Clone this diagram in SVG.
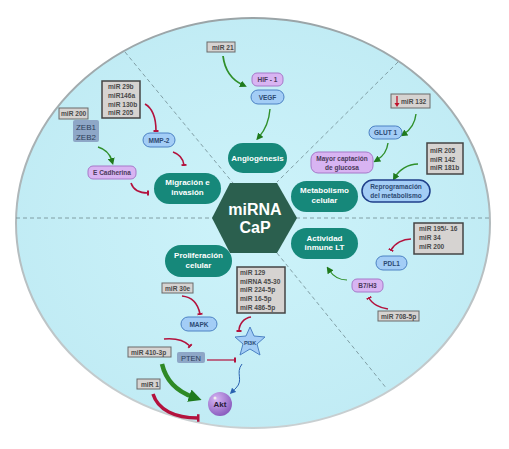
<svg xmlns="http://www.w3.org/2000/svg" width="509" height="449" viewBox="0 0 509 449">
<style>
text{font-family:"Liberation Sans",Arial,sans-serif;font-weight:bold}
.teal{fill:#16887a}
.tl{fill:#fff;font-size:8px;text-anchor:middle}
.gbox{fill:#d6d3d1;stroke:#6a6a6a;stroke-width:1}
.gbox2{fill:#d6d3d1;stroke:#444;stroke-width:1.5}
.gt{fill:#4a4a4a;font-size:6.6px}
.lav{fill:#d8b4f2;stroke:#a679c9;stroke-width:1}
.blu{fill:#a3cdf6;stroke:#4c82c4;stroke-width:1}
.st{font-size:6.5px;text-anchor:middle}
.lt{fill:#4a3a5a}
.bt{fill:#2c4a72}
.dash{stroke:#6f8a90;stroke-width:0.8;stroke-dasharray:4 3;fill:none}
.g{fill:none;stroke:#2f8f2a;stroke-width:1.8;marker-end:url(#ag)}
.r{fill:none;stroke:#b3123d;stroke-width:1.6;marker-end:url(#tr)}
</style>
<defs>
<radialGradient id="bg" cx="50%" cy="50%" r="55%">
<stop offset="0" stop-color="#cdf3fa"/>
<stop offset="1" stop-color="#c0ebf4"/>
</radialGradient>
<linearGradient id="rim" x1="0" y1="0" x2="0" y2="1">
<stop offset="0" stop-color="#9aa4a7"/>
<stop offset="1" stop-color="#c9d0d2"/>
</linearGradient>
<radialGradient id="akt" cx="35%" cy="30%" r="70%">
<stop offset="0" stop-color="#d6b5f3"/>
<stop offset="1" stop-color="#8c5fc0"/>
</radialGradient>
<marker id="ag" viewBox="0 0 10 10" refX="4" refY="5" markerUnits="userSpaceOnUse" markerWidth="7" markerHeight="7" orient="auto">
<path d="M0,0 L10,5 L0,10 z" fill="#1f7a1c"/>
</marker>
<marker id="agb" viewBox="0 0 10 10" refX="3" refY="5" markerUnits="userSpaceOnUse" markerWidth="13" markerHeight="13" orient="auto">
<path d="M0,0 L10,5 L0,10 z" fill="#1f7a1c"/>
</marker>
<marker id="tr" viewBox="0 0 4 10" refX="2" refY="5" markerUnits="userSpaceOnUse" markerWidth="2" markerHeight="7" orient="auto">
<rect x="0" y="0" width="4" height="10" fill="#b3123d"/>
</marker>
<marker id="trb" viewBox="0 0 4 10" refX="2" refY="5" markerUnits="userSpaceOnUse" markerWidth="3" markerHeight="14" orient="auto">
<rect x="0" y="0" width="4" height="10" fill="#b3123d"/>
</marker>
<marker id="ab" viewBox="0 0 10 10" refX="5" refY="5" markerUnits="userSpaceOnUse" markerWidth="6" markerHeight="6" orient="auto">
<path d="M0,0 L10,5 L0,10 z" fill="#2a62b0"/>
</marker>
</defs>

<g id="background">
<ellipse cx="253" cy="223" rx="237" ry="205" fill="url(#bg)" stroke="url(#rim)" stroke-width="2"/>
<line class="dash" x1="16" y1="218" x2="490" y2="218"/>
<line class="dash" x1="125" y1="52" x2="233" y2="183"/>
<line class="dash" x1="398" y1="62" x2="277" y2="182"/>
<line class="dash" x1="277" y1="253" x2="387" y2="389"/>
</g>

<g id="connectors">
<path class="g" d="M223,56 C225,72 232,80 243,85"/>
<path class="g" style="stroke-width:1.4" d="M270,109 C269,122 265,130 259,137"/>
<path class="r" d="M145,104 C152,108 156,118 156,131"/>
<path class="r" d="M173,152 C179,154 183,158 184,165"/>
<path class="g" style="stroke-width:1.4" d="M98,147 C105,149 110,154 112,161"/>
<path class="r" d="M131,183 C133,189 139,193 148,193"/>
<path class="g" style="stroke-width:1.4" d="M416,114 C415,123 410,130 404,134"/>
<path class="g" style="stroke-width:1.4" d="M388,143 C387,151 382,157 377,160"/>
<path class="g" style="stroke-width:1.4" d="M418,164 C408,164 399,170 395,177"/>
<path class="r" d="M411,239 C403,239 395,243 391,250"/>
<path class="g" style="stroke-width:1.2" d="M347,280 C340,280 333,276 329,270"/>
<path class="r" d="M388,309 C380,308 372,304 369,298"/>
<path class="r" d="M182,296 C192,297 198,304 200,314"/>
<path class="r" d="M251,317 C244,318 239,324 239,331"/>
<path class="r" d="M164,339 C175,338 184,340 190,346"/>
<path class="r" style="stroke-width:1.2" d="M207,360 L235,360"/>
<path fill="none" stroke="#2a62b0" stroke-width="1" marker-end="url(#ab)" d="M242,364 C235,373 244,380 236,388 C234,390 233,391 232,392"/>
<path fill="none" stroke="#2e8a26" stroke-width="4.5" marker-end="url(#agb)" d="M162,364 C166,381 176,391 193,397"/>
<path fill="none" stroke="#b3123d" stroke-width="3.5" marker-end="url(#trb)" d="M153,394 C158,410 175,418 198,418"/>
</g>

<g id="center">
<polygon points="212,218 230,183 277,183 297,218 277,253 230,253" fill="#2b5f4e"/>
<text x="255" y="215" fill="#fff" font-size="16" text-anchor="middle">miRNA</text>
<text x="255" y="233" fill="#fff" font-size="16" text-anchor="middle">CaP</text>
</g>

<g id="angiogenesis">
<rect class="teal" x="228" y="143" width="59" height="30" rx="15"/>
<text class="tl" x="257.5" y="161">Angiogénesis</text>
</g>
<g id="migracion">
<rect class="teal" x="154" y="173" width="67" height="31" rx="15.5"/>
<text class="tl" x="187.5" y="185">Migración e</text>
<text class="tl" x="187.5" y="195">invasión</text>
</g>
<g id="metabolismo">
<rect class="teal" x="291" y="181" width="67" height="31" rx="15.5"/>
<text class="tl" x="324.5" y="193">Metabolismo</text>
<text class="tl" x="324.5" y="203">celular</text>
</g>
<g id="actividad">
<rect class="teal" x="291" y="228" width="67" height="31" rx="15.5"/>
<text class="tl" x="324.5" y="241">Actividad</text>
<text class="tl" x="324.5" y="250">inmune LT</text>
</g>
<g id="proliferacion">
<rect class="teal" x="165" y="245" width="67" height="32" rx="16"/>
<text class="tl" x="198.5" y="258">Proliferación</text>
<text class="tl" x="198.5" y="268">celular</text>
</g>

<g id="mir21"><rect class="gbox" x="207" y="42" width="28" height="10"/><text class="gt" x="212" y="49.5">miR 21</text></g>
<g id="hif1"><rect class="lav" x="252" y="73" width="31" height="13" rx="5"/><text class="st lt" x="267.5" y="81.5">HIF - 1</text></g>
<g id="vegf"><rect class="blu" x="251" y="90" width="33" height="14" rx="7"/><text class="st bt" x="267.5" y="99.5">VEGF</text></g>

<g id="mir29b"><rect class="gbox2" x="102" y="81" width="38" height="37"/>
<text class="gt" x="108" y="89">miR 29b</text><text class="gt" x="108" y="98">miR146a</text><text class="gt" x="108" y="106.5">miR 130b</text><text class="gt" x="108" y="115">miR 205</text></g>
<g id="mir200a"><rect class="gbox" x="59" y="108" width="29" height="11"/><text class="gt" x="61" y="116">miR 200</text></g>
<g id="zeb"><rect x="73" y="120" width="26" height="22" rx="2" fill="#8ea7c7"/>
<text x="86" y="130" font-size="8" fill="#2c3e5a" text-anchor="middle" style="font-weight:normal">ZEB1</text>
<text x="86" y="139.5" font-size="8" fill="#2c3e5a" text-anchor="middle" style="font-weight:normal">ZEB2</text></g>
<g id="mmp2"><rect class="blu" x="143" y="133" width="32" height="14" rx="7"/><text class="st bt" x="159" y="142.5">MMP-2</text></g>
<g id="ecadherina"><rect class="lav" x="88" y="166" width="48" height="13" rx="5"/><text class="st lt" x="112" y="175">E Cadherina</text></g>

<g id="mir132"><rect class="gbox" x="391" y="94" width="39" height="14"/>
<path d="M397,96 L397,104" stroke="#c0102a" stroke-width="1.3"/><path d="M394.5,103 L397,107 L399.5,103 z" fill="#c0102a"/>
<text class="gt" x="401" y="103.5">miR 132</text></g>
<g id="glut1"><rect class="blu" x="369" y="126" width="33" height="13" rx="6.5"/><text class="st bt" x="385.5" y="135">GLUT 1</text></g>
<g id="mayor"><rect class="lav" x="311" y="152" width="62" height="21" rx="7"/>
<text class="st lt" x="342" y="160.5">Mayor captación</text><text class="st lt" x="342" y="169.5">de glucosa</text></g>
<g id="mir205"><rect class="gbox2" x="427" y="143" width="36" height="31"/>
<text class="gt" x="430" y="153">miR 205</text><text class="gt" x="430" y="161.5">miR 142</text><text class="gt" x="430" y="170">miR 181b</text></g>
<g id="reprog"><rect x="362" y="180" width="68" height="22" rx="11" fill="#a3cdf6" stroke="#1f3f8a" stroke-width="1.5"/>
<text class="st bt" x="396" y="189">Reprogramación</text><text class="st bt" x="396" y="198">del metabolismo</text></g>

<g id="mir195"><rect class="gbox2" x="414" y="223" width="49" height="31"/>
<text class="gt" x="419" y="231">miR 195/- 16</text><text class="gt" x="419" y="240">miR 34</text><text class="gt" x="419" y="249">miR 200</text></g>
<g id="pdl1"><rect class="blu" x="376" y="256" width="31" height="14" rx="7"/><text class="st bt" x="391.5" y="265.5">PDL1</text></g>
<g id="b7h3"><rect class="lav" x="352" y="279" width="31" height="13" rx="5"/><text class="st lt" x="367.5" y="288">B7/H3</text></g>
<g id="mir708"><rect class="gbox" x="378" y="311" width="41" height="10"/><text class="gt" x="381" y="318.5">miR 708-5p</text></g>

<g id="mir129"><rect class="gbox2" x="237" y="267" width="48" height="46"/>
<text class="gt" x="240" y="275">miR 129</text><text class="gt" x="240" y="284">miRNA 45-30</text><text class="gt" x="240" y="292">miR 224-5p</text><text class="gt" x="240" y="301">miR 16-5p</text><text class="gt" x="240" y="309.5">miR 486-5p</text></g>
<g id="mir30e"><rect class="gbox" x="162" y="283" width="31" height="10"/><text class="gt" x="165" y="290.5">miR 30e</text></g>
<g id="mapk"><rect class="blu" x="181" y="317" width="36" height="14" rx="7"/><text class="st bt" x="199" y="326.5">MAPK</text></g>
<g id="pi3k"><polygon points="250,327 254,336 265,337 257,344 260,355 250,349 240,355 243,344 235,337 246,336" fill="#a3cdf6" stroke="#4c82c4" stroke-width="1"/>
<text class="st bt" x="250" y="345" style="font-size:5.5px">PI3K</text></g>
<g id="mir410"><rect class="gbox" x="128" y="347" width="43" height="10"/><text class="gt" x="131" y="354.5">miR 410-3p</text></g>
<g id="pten"><rect x="177" y="352" width="28" height="11" rx="2" fill="#8ea7c7"/><text x="191" y="360.5" font-size="7.5" fill="#2c3e5a" text-anchor="middle" style="font-weight:normal">PTEN</text></g>
<g id="mir1"><rect class="gbox" x="137" y="379" width="23" height="10"/><text class="gt" x="141" y="386.5">miR 1</text></g>
<g id="akt"><circle cx="220" cy="404" r="12" fill="url(#akt)"/><circle cx="215" cy="398" r="1.5" fill="#eee"/><text x="220" y="407" font-size="8" fill="#2a1a3a" text-anchor="middle">Akt</text></g>
</svg>
